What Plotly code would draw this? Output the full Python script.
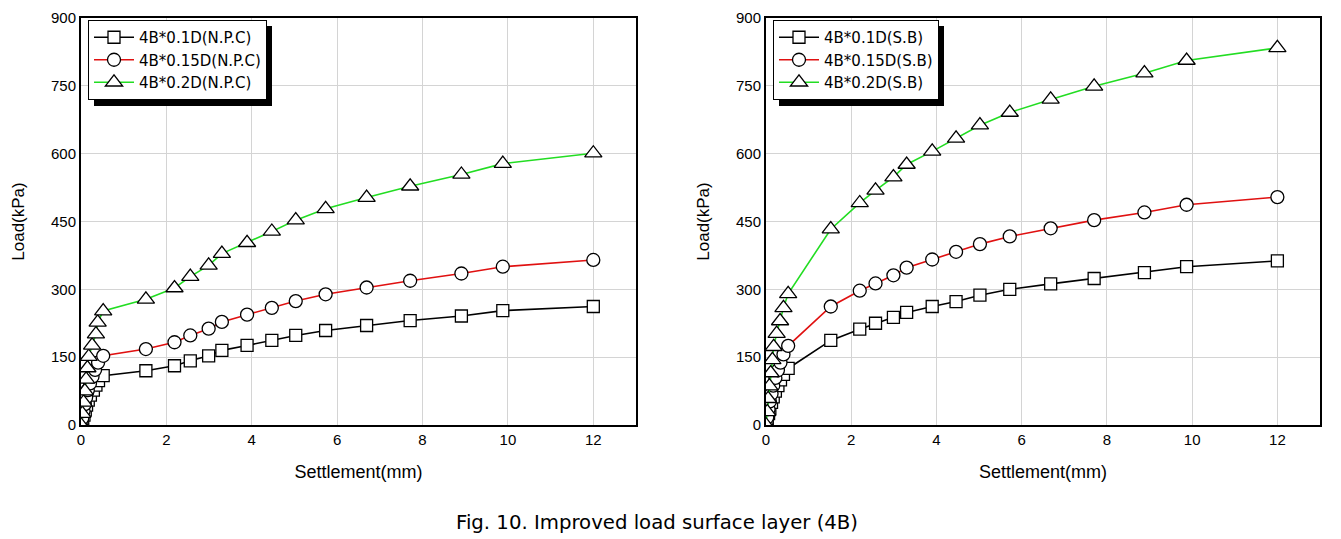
import plotly.graph_objects as go

# ---------------- data ----------------
# Left panel: N.P.C
npc01_x = [0.0, 0.04, 0.07, 0.10, 0.13, 0.17, 0.22, 0.29, 0.35, 0.41,
           0.52, 1.52, 2.19, 2.56, 2.99, 3.30, 3.89, 4.47, 5.03, 5.73, 6.69, 7.71, 8.91, 9.88, 12.0]
npc01_y = [0, 11, 22, 33, 44, 55, 66, 77, 88, 98,
           109, 120, 131, 142, 153, 165, 176, 187, 198, 209, 220, 231, 241, 253, 262]
npc015_x = [0.0, 0.03, 0.06, 0.09, 0.12, 0.16, 0.21, 0.27, 0.33, 0.40,
            0.52, 1.52, 2.19, 2.56, 2.99, 3.30, 3.89, 4.47, 5.03, 5.73, 6.69, 7.71, 8.91, 9.88, 12.0]
npc015_y = [0, 15, 31, 46, 61, 77, 92, 107, 122, 138,
            153, 168, 183, 198, 213, 228, 244, 259, 274, 289, 304, 319, 335, 350, 365]
npc02_x = [0.0, 0.03, 0.06, 0.09, 0.12, 0.15, 0.18, 0.26, 0.35, 0.39,
           0.52, 1.52, 2.19, 2.56, 2.99, 3.30, 3.89, 4.47, 5.03, 5.73, 6.69, 7.71, 8.91, 9.88, 12.0]
npc02_y = [0, 25, 50, 75, 101, 126, 151, 176, 201, 227,
           252, 278, 303, 328, 353, 379, 403, 428, 453, 478, 503, 528, 554, 578, 601]

# Right panel: S.B
sb01_x = [0.0, 0.03, 0.06, 0.09, 0.13, 0.17, 0.22, 0.28, 0.34, 0.41,
          0.52, 1.52, 2.20, 2.57, 2.99, 3.30, 3.90, 4.46, 5.02, 5.72, 6.68, 7.70, 8.88, 9.87, 12.0]
sb01_y = [0, 12, 25, 37, 50, 62, 75, 87, 100, 112,
          125, 187, 212, 225, 238, 249, 262, 273, 287, 300, 312, 324, 337, 350, 363]
sb015_x = [0.0, 0.03, 0.06, 0.09, 0.13, 0.17, 0.22, 0.28, 0.34, 0.41,
           0.52, 1.52, 2.20, 2.57, 2.99, 3.30, 3.90, 4.46, 5.02, 5.72, 6.68, 7.70, 8.88, 9.87, 12.0]
sb015_y = [0, 17, 35, 52, 69, 87, 104, 121, 138, 156,
           175, 262, 297, 313, 331, 348, 366, 383, 400, 417, 435, 453, 470, 487, 504]
sb02_x = [0.0, 0.03, 0.05, 0.08, 0.11, 0.15, 0.18, 0.25, 0.33, 0.41,
          0.52, 1.52, 2.20, 2.57, 2.99, 3.30, 3.90, 4.46, 5.02, 5.72, 6.68, 7.70, 8.88, 9.87, 12.0]
sb02_y = [0, 29, 58, 86, 115, 144, 173, 202, 230, 259,
          290, 433, 491, 519, 548, 576, 605, 634, 663, 691, 720, 749, 778, 806, 834]

left_names = ["4B*0.1D(N.P.C)", "4B*0.15D(N.P.C)", "4B*0.2D(N.P.C)"]
right_names = ["4B*0.1D(S.B)", "4B*0.15D(S.B)", "4B*0.2D(S.B)"]

x_ticks = [0, 2, 4, 6, 8, 10, 12]
y_ticks = [0, 150, 300, 450, 600, 750, 900]

x_title = "Settlement(mm)"
y_title = "Load(kPa)"
caption = "Fig. 10. Improved load surface layer (4B)"

# ---------------- styling ----------------
OFF = 8                      # page body margin in the browser
W, H = 1341 - OFF, 539 - OFF
colors = ["#000000", "#e01010", "#22dd22"]
symbols = ["square", "circle", "triangle-up"]
sizes = [12, 13, 15]
FONT = "Liberation Sans, Arial, sans-serif"

fig = go.Figure()

series_left = [(npc01_x, npc01_y), (npc015_x, npc015_y), (npc02_x, npc02_y)]
series_right = [(sb01_x, sb01_y), (sb015_x, sb015_y), (sb02_x, sb02_y)]

for i, (xs, ys) in enumerate(series_left):
    fig.add_trace(go.Scatter(
        x=xs, y=ys, name=left_names[i], mode="lines+markers",
        xaxis="x", yaxis="y", legend="legend",
        line=dict(color=colors[i], width=1.6),
        marker=dict(symbol=symbols[i], size=sizes[i], color="white",
                    line=dict(color="black", width=1.3)),
    ))
for i, (xs, ys) in enumerate(series_right):
    fig.add_trace(go.Scatter(
        x=xs, y=ys, name=right_names[i], mode="lines+markers",
        xaxis="x2", yaxis="y2", legend="legend2",
        line=dict(color=colors[i], width=1.6),
        marker=dict(symbol=symbols[i], size=sizes[i], color="white",
                    line=dict(color="black", width=1.3)),
    ))

def px_x(p):
    return (p - OFF) / W

def px_y(p):
    return 1 - (p - OFF) / H

L_dom = [px_x(81), px_x(636)]
R_dom = [px_x(766), px_x(1320)]
Y_dom = [px_y(425), px_y(18)]

axis_common = dict(
    showline=True, mirror=True, linecolor="black", linewidth=2,
    showgrid=True, gridcolor="#d4d4d4", gridwidth=1, automargin=False,
    zeroline=False, ticks="", tickfont=dict(family=FONT, size=15, color="black"),
)

legend_common = dict(
    xanchor="left", yanchor="top",
    bgcolor="white", bordercolor="black", borderwidth=1,
    font=dict(family="DejaVu Sans", size=15, color="black"),
    itemwidth=40, tracegroupgap=0,
)

fig.update_layout(
    width=W, height=H,
    margin=dict(l=0, r=0, t=0, b=0, autoexpand=False),
    paper_bgcolor="white", plot_bgcolor="white",
    font=dict(family=FONT, color="black"),
    xaxis=dict(domain=L_dom, range=[0, 13], tickvals=x_ticks, anchor="y",
               title=dict(text=x_title, font=dict(size=18), standoff=18), **axis_common),
    yaxis=dict(domain=Y_dom, range=[0, 900], tickvals=y_ticks, anchor="x",
               title=dict(text=y_title, font=dict(size=17), standoff=22), **axis_common),
    xaxis2=dict(domain=R_dom, range=[0, 13], tickvals=x_ticks, anchor="y2",
                title=dict(text=x_title, font=dict(size=18), standoff=18), **axis_common),
    yaxis2=dict(domain=Y_dom, range=[0, 900], tickvals=y_ticks, anchor="x2",
                title=dict(text=y_title, font=dict(size=17), standoff=22), **axis_common),
    legend=dict(x=px_x(88), y=px_y(20), **legend_common),
    legend2=dict(x=px_x(773), y=px_y(20), **legend_common),
    showlegend=True,
)

# legend drop shadows (offset behind each legend box)
fig.add_shape(type="rect", xref="paper", yref="paper",
              x0=px_x(94), x1=px_x(272), y0=px_y(106), y1=px_y(26),
              fillcolor="black", line=dict(width=0), layer="above")
fig.add_shape(type="rect", xref="paper", yref="paper",
              x0=px_x(779), x1=px_x(944), y0=px_y(106), y1=px_y(26),
              fillcolor="black", line=dict(width=0), layer="above")

fig.add_annotation(text=caption, xref="paper", yref="paper",
                   x=px_x(657), y=px_y(522), xanchor="center", yanchor="middle",
                   showarrow=False, font=dict(family="DejaVu Sans", size=19.7, color="black"))

fig.write_html("out.html")
